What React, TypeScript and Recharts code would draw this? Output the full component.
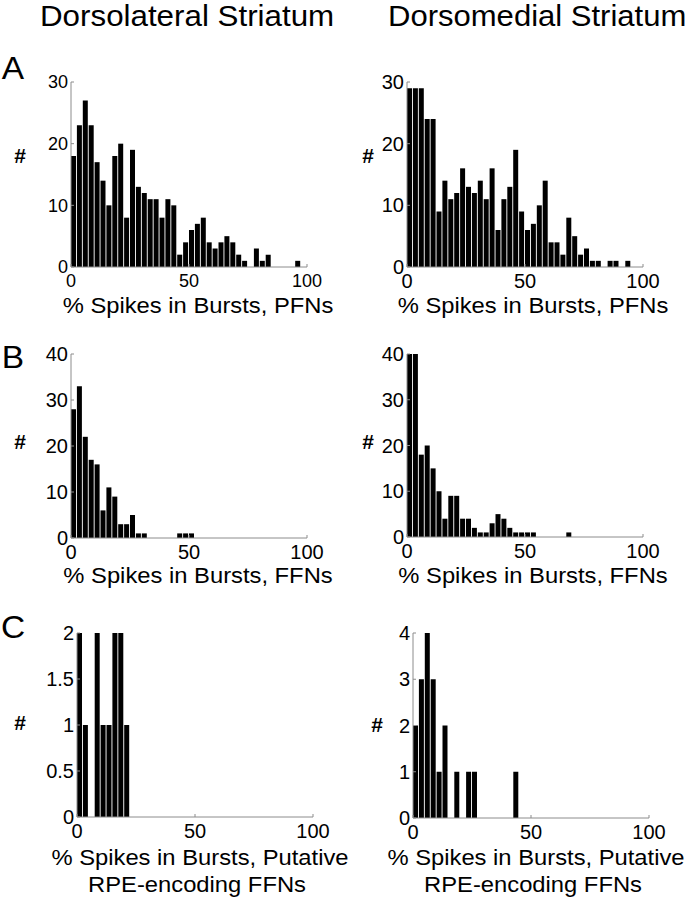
import React from 'react';
import { BarChart, Bar, XAxis, YAxis } from 'recharts';

// Bin centres (% spikes in bursts), 2.5-wide bins
const BIN_CENTERS = [
  1.25, 3.75, 6.25, 8.75, 11.25, 13.75, 16.25, 18.75, 21.25, 23.75,
  26.25, 28.75, 31.25, 33.75, 36.25, 38.75, 41.25, 43.75, 46.25, 48.75,
  51.25, 53.75, 56.25, 58.75, 61.25, 63.75, 66.25, 68.75, 71.25, 73.75,
  76.25, 78.75, 81.25, 83.75, 86.25, 88.75, 91.25, 93.75, 96.25, 98.75,
];

// A: PFNs
const DLS_PFN = [
  18, 23, 27, 23, 17, 14, 10, 18, 20, 8,
  19, 13, 12, 11, 11, 8, 11, 10, 2, 4,
  6, 7, 8, 4, 3, 4, 5, 4, 2, 1,
  0, 3, 1, 2, 0, 0, 0, 0, 1, 0,
];
const DMS_PFN = [
  29, 29, 29, 24, 24, 9, 14, 11, 12, 16,
  13, 12, 14, 11, 16, 6, 11, 13, 19, 9,
  6, 7, 10, 14, 4, 4, 2, 8, 5, 2,
  3, 1, 1, 0, 1, 1, 0, 1, 0, 0,
];
// B: FFNs
const DLS_FFN = [
  28, 33, 22, 17, 16, 6, 11, 9, 3, 3,
  5, 1, 1, 0, 0, 0, 0, 0, 1, 1,
  1, 0, 0, 0, 0, 0, 0, 0, 0, 0,
  0, 0, 0, 0, 0, 0, 0, 0, 0, 0,
];
const DMS_FFN = [
  40, 40, 18, 20, 15, 10, 4, 9, 9, 4,
  4, 2, 1, 1, 3, 5, 4, 2, 1, 1,
  1, 1, 0, 0, 0, 0, 0, 1, 0, 0,
  0, 0, 0, 0, 0, 0, 0, 0, 0, 0,
];
// C: putative RPE-encoding FFNs
const DLS_RPE = [
  2, 1, 0, 2, 1, 1, 2, 2, 1, 0,
  0, 0, 0, 0, 0, 0, 0, 0, 0, 0,
  0, 0, 0, 0, 0, 0, 0, 0, 0, 0,
  0, 0, 0, 0, 0, 0, 0, 0, 0, 0,
];
const DMS_RPE = [
  2, 3, 4, 3, 1, 2, 0, 1, 0, 1,
  1, 0, 0, 0, 0, 0, 0, 1, 0, 0,
  0, 0, 0, 0, 0, 0, 0, 0, 0, 0,
  0, 0, 0, 0, 0, 0, 0, 0, 0, 0,
];

const X_TICKS = [0, 50, 100];
const Y_TICKS_A = [0, 10, 20, 30];
const Y_TICKS_B = [0, 10, 20, 30, 40];
const Y_TICKS_C_LEFT = [0, 0.5, 1, 1.5, 2];
const Y_TICKS_C_RIGHT = [0, 1, 2, 3, 4];

const COLUMN_TITLES = ['Dorsolateral Striatum', 'Dorsomedial Striatum'];
const ROW_LETTERS = ['A', 'B', 'C'];
const X_LABEL_PFN = '% Spikes in Bursts, PFNs';
const X_LABEL_FFN = '% Spikes in Bursts, FFNs';
const X_LABEL_RPE_1 = '% Spikes in Bursts, Putative';
const X_LABEL_RPE_2 = 'RPE-encoding FFNs';

const FONT = '"Liberation Sans", Arial, Helvetica, sans-serif';
const AXIS_GRAY = '#8c8c8c';

type PanelProps = {
  values: number[];
  plotLeft: number;
  plotTop: number;
  plotW: number;
  plotH: number;
  yMax: number;
  yTicks: number[];
  fontSize: number;
};

function Panel({ values, plotLeft, plotTop, plotW, plotH, yMax, yTicks, fontSize }: PanelProps) {
  const data = BIN_CENTERS.map((x, i) => ({ x, n: values[i] }));
  const yw = 60;
  const mt = 14;
  const mr = 36;
  const xh = 40;
  return (
    <div style={{ position: 'absolute', left: plotLeft - yw, top: plotTop - mt }}>
      <BarChart
        width={yw + plotW + mr}
        height={mt + plotH + xh}
        data={data}
        margin={{ top: mt, right: mr, left: 0, bottom: 0 }}
        barGap={0}
        barCategoryGap={0}
      >
        <XAxis
          dataKey="x"
          type="number"
          domain={[0, 100]}
          ticks={X_TICKS}
          interval={0}
          allowDataOverflow
          height={xh}
          axisLine={{ stroke: AXIS_GRAY, strokeWidth: 1 }}
          tickLine={{ stroke: AXIS_GRAY, strokeWidth: 1 }}
          tickSize={-3}
          tickMargin={10}
          tick={{ fill: '#000', fontSize, fontFamily: FONT }}
        />
        <YAxis
          type="number"
          domain={[0, yMax]}
          ticks={yTicks}
          interval={0}
          allowDataOverflow
          width={yw}
          axisLine={{ stroke: AXIS_GRAY, strokeWidth: 1 }}
          tickLine={{ stroke: AXIS_GRAY, strokeWidth: 1 }}
          tickSize={-3}
          tickMargin={6}
          tick={{ fill: '#000', fontSize, fontFamily: FONT }}
        />
        <Bar dataKey="n" fill="#000" barSize={plotW / 40 - 0.9} isAnimationActive={false} />
      </BarChart>
    </div>
  );
}

type TextProps = {
  text: string;
  x: number;
  cy: number;
  fs: number;
  center?: boolean;
  bold?: boolean;
  sx?: number;
};

function T({ text, x, cy, fs, center = true, bold = false, sx = 1 }: TextProps) {
  return (
    <div
      style={{
        position: 'absolute',
        left: x,
        top: cy - 0.488 * fs,
        fontSize: fs,
        lineHeight: 1,
        fontFamily: FONT,
        fontWeight: bold ? 'bold' : 'normal',
        color: '#000',
        whiteSpace: 'nowrap',
        transform: center ? `translateX(-50%) scaleX(${sx})` : `scaleX(${sx})`,
        transformOrigin: center ? 'center' : 'left',
      }}
    >
      {text}
    </div>
  );
}

export default function App() {
  const PW = 236;
  return (
    <div
      style={{
        position: 'absolute',
        left: 0,
        top: 0,
        width: 696,
        height: 900,
        background: '#fff',
        overflow: 'hidden',
      }}
    >
      {/* Column titles */}
      <T text={COLUMN_TITLES[0]} x={40} cy={16} fs={29} center={false} sx={1.08} />
      <T text={COLUMN_TITLES[1]} x={388} cy={16} fs={29} center={false} sx={1.07} />

      {/* Row letters */}
      <T text={ROW_LETTERS[0]} x={13} cy={68} fs={31} sx={1.08} />
      <T text={ROW_LETTERS[1]} x={13} cy={357} fs={31} sx={1.08} />
      <T text={ROW_LETTERS[2]} x={13} cy={627} fs={31} sx={1.08} />

      {/* Row A */}
      <Panel values={DLS_PFN} plotLeft={71} plotTop={82} plotW={PW} plotH={185} yMax={30} yTicks={Y_TICKS_A} fontSize={18} />
      <Panel values={DMS_PFN} plotLeft={407} plotTop={82} plotW={PW} plotH={185} yMax={30} yTicks={Y_TICKS_A} fontSize={20} />

      {/* Row B */}
      <Panel values={DLS_FFN} plotLeft={71} plotTop={354} plotW={PW} plotH={184} yMax={40} yTicks={Y_TICKS_B} fontSize={20} />
      <Panel values={DMS_FFN} plotLeft={407} plotTop={354} plotW={PW} plotH={183} yMax={40} yTicks={Y_TICKS_B} fontSize={20} />

      {/* Row C */}
      <Panel values={DLS_RPE} plotLeft={77} plotTop={633} plotW={PW} plotH={184} yMax={2} yTicks={Y_TICKS_C_LEFT} fontSize={20} />
      <Panel values={DMS_RPE} plotLeft={413} plotTop={633} plotW={PW} plotH={185} yMax={4} yTicks={Y_TICKS_C_RIGHT} fontSize={20} />

      {/* Y labels */}
      <T text="#" x={20} cy={155} fs={21} bold />
      <T text="#" x={368} cy={155} fs={21} bold />
      <T text="#" x={20} cy={441} fs={21} bold />
      <T text="#" x={368} cy={441} fs={21} bold />
      <T text="#" x={20} cy={722} fs={21} bold />
      <T text="#" x={377} cy={724} fs={21} bold />

      {/* X labels */}
      <T text={X_LABEL_PFN} x={198} cy={306} fs={22} sx={1.08} />
      <T text={X_LABEL_PFN} x={533} cy={306} fs={22} sx={1.08} />
      <T text={X_LABEL_FFN} x={198} cy={576} fs={22} sx={1.08} />
      <T text={X_LABEL_FFN} x={533} cy={576} fs={22} sx={1.08} />
      <T text={X_LABEL_RPE_1} x={200} cy={858} fs={22} sx={1.08} />
      <T text={X_LABEL_RPE_2} x={197} cy={885} fs={22} sx={1.08} />
      <T text={X_LABEL_RPE_1} x={536} cy={858} fs={22} sx={1.08} />
      <T text={X_LABEL_RPE_2} x={533} cy={885} fs={22} sx={1.08} />
    </div>
  );
}
